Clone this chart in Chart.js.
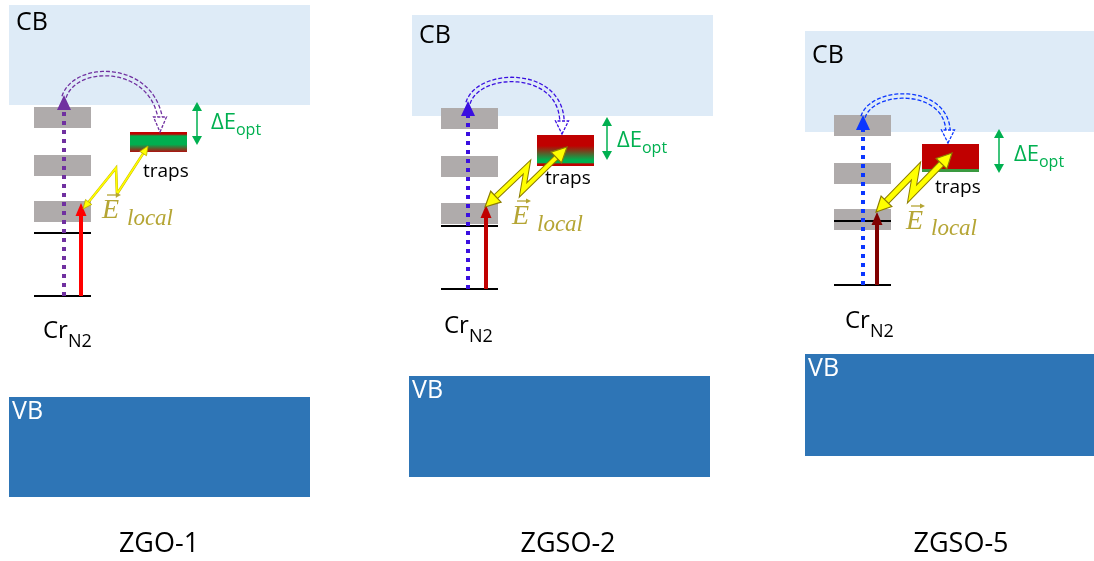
<!DOCTYPE html>
<html>
<head>
<meta charset="utf-8">
<script src="https://cdn.jsdelivr.net/npm/chart.js@4.4.1/dist/chart.umd.min.js"></script>
<style>
  body { margin: 0; background: #fff; }
  canvas { display: block; }
</style>
</head>
<body>
<canvas id="diagrama" width="1094" height="561"></canvas>
<script>
// muestras
const samples = ['ZGO-1', 'ZGSO-2', 'ZGSO-5'];

// niveles de energia (eje vertical, 0 arriba)
const cbTop = [5, 15, 31];
const cbBottom = [105, 116, 132];
const vbTop = [397, 376, 354];
const vbBottom = [497, 477, 456];
const crExcited = [[107, 155, 201], [108, 156, 203], [115, 163, 209]];
const crLevel2 = [233, 226, 221];
const crGround = [296, 289, 285];
const trapTop = [132, 135, 144];
const trapBottom = [152, 166, 172];
const deltaTop = [102, 117, 129];
const deltaBottom = [145, 160, 173];
const uvTip = [95, 101, 115];
const redTip = [203, 205, 212];

// posicion horizontal de cada panel
const cbLeft = [9, 412, 805], cbRight = [310, 713, 1094];
const vbLeft = [9, 409, 805], vbRight = [310, 710, 1094];
const levelLeft = [34, 441, 834];
const uvX = [64, 468, 863];
const redX = [81, 486, 877];
const trapLeft = [130, 537, 922];
const deltaX = [197, 607, 999];
const sampleX = [159, 568, 961];

const uvColor = ['#7030a0', '#3a0fe0', '#0a36ff'];
const redColor = ['#ff0000', '#c00000', '#800000'];
const olive = '#b5a534';

const LEVEL_W = 57, GRAY_H = 21, TRAP_W = 57;

// flecha en zigzag entre trampas y Cr
const zigzag = [
    [[83, 209], [116, 168], [117, 194], [148, 146]],
    [[485, 207], [527, 167], [523, 190], [567, 147]],
    [[876, 212], [916, 171], [912, 194], [952, 153]]
];
const zigWidth = [1.6, 4, 5];

// arco doble discontinuo (bezier)
const arcs = [
    [[64, 97], [75, 63], [150, 63], [160, 117]],
    [[468, 103], [478, 70], [560, 68], [562, 121]],
    [[863, 117], [872, 88], [945, 86], [948, 130]]
];
const arcEnd = [132, 134, 143];

const trapStops = [
    [[0, '#c00000'], [0.1, '#c00000'], [0.2, '#00b050'], [0.62, '#00b050'], [1, '#b01010']],
    [[0, '#c00000'], [0.35, '#c00000'], [0.8, '#00b050'], [0.9, '#00b050'], [0.93, '#c00000'], [1, '#c00000']],
    [[0, '#c00000'], [0.88, '#c00000'], [0.9, '#3a9a40'], [1, '#3a9a40']]
];

// textos
const cbLabelY = [30, 43, 63];
const crLabel = [[43, 338], [444, 333], [845, 328]];
const trapsLabel = [[143, 177], [545, 184], [935, 193]];
const eLabel = [[102, 218, 127, 225], [512, 224, 537, 231], [906, 229, 931, 235]];
const deltaLabel = [[211, 129], [617, 147], [1014, 161]];

const datasets = [];
for (let i = 0; i < samples.length; i++) {
    [crLevel2[i], crGround[i]].forEach(e => {
        datasets.push({
            data: [{x: levelLeft[i], y: e}, {x: levelLeft[i] + LEVEL_W, y: e}],
            showLine: true, borderColor: '#000', borderWidth: 2, pointRadius: 0, order: 3
        });
    });
    datasets.push({
        data: [{x: uvX[i], y: crGround[i]}, {x: uvX[i], y: uvTip[i] + 13}],
        showLine: true, borderColor: uvColor[i], borderWidth: 4, borderDash: [4, 5],
        borderCapStyle: 'butt', pointRadius: 0, order: 1
    });
    datasets.push({
        data: [{x: redX[i], y: crGround[i]}, {x: redX[i], y: redTip[i] + 12}],
        showLine: true, borderColor: redColor[i], borderWidth: 4, pointRadius: 0, order: 2
    });
}

function head(ctx, tx, ty, ang, len, w, fill, stroke, lw) {
    ctx.beginPath();
    ctx.moveTo(tx, ty);
    ctx.lineTo(tx - len * Math.cos(ang) + w / 2 * Math.sin(ang), ty - len * Math.sin(ang) - w / 2 * Math.cos(ang));
    ctx.lineTo(tx - len * Math.cos(ang) - w / 2 * Math.sin(ang), ty - len * Math.sin(ang) + w / 2 * Math.cos(ang));
    ctx.closePath();
    if (fill) { ctx.fillStyle = fill; ctx.fill(); }
    if (stroke) { ctx.strokeStyle = stroke; ctx.lineWidth = lw || 1; ctx.stroke(); }
}

function bez(p, t) {
    const u = 1 - t;
    return [
        u*u*u*p[0][0] + 3*u*u*t*p[1][0] + 3*u*t*t*p[2][0] + t*t*t*p[3][0],
        u*u*u*p[0][1] + 3*u*u*t*p[1][1] + 3*u*t*t*p[2][1] + t*t*t*p[3][1]
    ];
}

const fondo = {
    id: 'fondo',
    beforeDatasetsDraw(chart) {
        const ctx = chart.ctx;
        const X = v => chart.scales.x.getPixelForValue(v);
        const Y = v => chart.scales.y.getPixelForValue(v);
        ctx.save();
        for (let i = 0; i < samples.length; i++) {
            ctx.fillStyle = '#deebf7';
            ctx.fillRect(X(cbLeft[i]), Y(cbTop[i]), X(cbRight[i]) - X(cbLeft[i]), Y(cbBottom[i]) - Y(cbTop[i]));
            ctx.fillStyle = '#2e75b6';
            ctx.fillRect(X(vbLeft[i]), Y(vbTop[i]), X(vbRight[i]) - X(vbLeft[i]), Y(vbBottom[i]) - Y(vbTop[i]));
            ctx.fillStyle = '#afabab';
            crExcited[i].forEach(e => {
                ctx.fillRect(X(levelLeft[i]), Y(e), X(levelLeft[i] + LEVEL_W) - X(levelLeft[i]), Y(e + GRAY_H) - Y(e));
            });
            // trampas
            const y0 = Y(trapTop[i]), y1 = Y(trapBottom[i]);
            const g = ctx.createLinearGradient(0, y0, 0, y1);
            trapStops[i].forEach(s => g.addColorStop(s[0], s[1]));
            ctx.fillStyle = g;
            ctx.fillRect(X(trapLeft[i]), y0, X(trapLeft[i] + TRAP_W) - X(trapLeft[i]), y1 - y0);
        }
        ctx.restore();
    },
    afterDatasetsDraw(chart) {
        const ctx = chart.ctx;
        const X = v => chart.scales.x.getPixelForValue(v);
        const Y = v => chart.scales.y.getPixelForValue(v);
        ctx.save();
        for (let i = 0; i < samples.length; i++) {
            // puntas de flecha
            head(ctx, X(uvX[i]), Y(uvTip[i]), -Math.PI / 2, 15, 14, uvColor[i]);
            head(ctx, X(redX[i]), Y(redTip[i]), -Math.PI / 2, 13, 11, redColor[i]);

            // delta E
            ctx.strokeStyle = '#00b050';
            ctx.lineWidth = 1.5;
            ctx.beginPath();
            ctx.moveTo(X(deltaX[i]), Y(deltaTop[i]) + 8);
            ctx.lineTo(X(deltaX[i]), Y(deltaBottom[i]) - 8);
            ctx.stroke();
            head(ctx, X(deltaX[i]), Y(deltaTop[i]), -Math.PI / 2, 9, 10, '#00b050');
            head(ctx, X(deltaX[i]), Y(deltaBottom[i]), Math.PI / 2, 9, 10, '#00b050');

            // arco doble discontinuo
            const pts = [];
            for (let k = 0; k <= 40; k++) {
                const p = bez(arcs[i], k / 40);
                pts.push([X(p[0]), Y(p[1])]);
            }
            ctx.strokeStyle = uvColor[i];
            ctx.lineWidth = 1.3;
            ctx.setLineDash([4, 2]);
            [-2.2, 2.2].forEach(off => {
                ctx.beginPath();
                pts.forEach((p, k) => {
                    const a = pts[Math.max(k - 1, 0)], b = pts[Math.min(k + 1, pts.length - 1)];
                    const dx = b[0] - a[0], dy = b[1] - a[1], L = Math.hypot(dx, dy);
                    const px = p[0] - dy / L * off, py = p[1] + dx / L * off;
                    if (k === 0) ctx.moveTo(px, py); else ctx.lineTo(px, py);
                });
                ctx.stroke();
            });
            const e = pts[pts.length - 1];
            ctx.setLineDash([3, 1.5]);
            head(ctx, e[0], Y(arcEnd[i]), Math.PI / 2, Y(arcEnd[i]) - e[1], 13, '#fff', uvColor[i], 1.3);
            ctx.setLineDash([]);

            // zigzag campo local
            const z = zigzag[i].map(p => [X(p[0]), Y(p[1])]);
            const w = zigWidth[i];
            const hl = w < 2 ? 9 : 15, hw = w < 2 ? 8 : 15;
            const a0 = Math.atan2(z[0][1] - z[1][1], z[0][0] - z[1][0]);
            const a1 = Math.atan2(z[3][1] - z[2][1], z[3][0] - z[2][0]);
            const s0 = [z[0][0] - (hl - 2) * Math.cos(a0), z[0][1] - (hl - 2) * Math.sin(a0)];
            const s1 = [z[3][0] - (hl - 2) * Math.cos(a1), z[3][1] - (hl - 2) * Math.sin(a1)];
            const line = [s0, z[1], z[2], s1];
            ctx.lineJoin = 'miter';
            const drawLine = (col, lw) => {
                ctx.strokeStyle = col; ctx.lineWidth = lw;
                ctx.beginPath();
                line.forEach((p, k) => k ? ctx.lineTo(p[0], p[1]) : ctx.moveTo(p[0], p[1]));
                ctx.stroke();
            };
            if (w < 2) {
                drawLine('#c9b800', w + 1);
                drawLine('#ffff00', w);
                head(ctx, z[0][0], z[0][1], a0, hl, hw, '#ffff00', '#b8a800', 0.8);
                head(ctx, z[3][0], z[3][1], a1, hl, hw, '#ffff00', '#b8a800', 0.8);
            } else {
                drawLine('#8c7d00', w + 2);
                drawLine('#ffff00', w);
                head(ctx, z[0][0], z[0][1], a0, hl, hw, '#ffff00', '#8c7d00', 1.2);
                head(ctx, z[3][0], z[3][1], a1, hl, hw, '#ffff00', '#8c7d00', 1.2);
            }

            // textos
            ctx.textBaseline = 'alphabetic';
            ctx.textAlign = 'left';
            ctx.fillStyle = '#000';
            ctx.font = "25px 'Open Sans'";
            ctx.fillText('CB', X(cbLeft[i]) + 7, Y(cbLabelY[i]));
            ctx.fillStyle = '#fff';
            ctx.fillText('VB', X(vbLeft[i]) + 3, Y(vbTop[i] + 22));

            ctx.fillStyle = '#000';
            ctx.font = "24px 'Open Sans'";
            ctx.fillText('Cr', X(crLabel[i][0]), Y(crLabel[i][1]));
            const cw = ctx.measureText('Cr').width;
            ctx.font = "18px 'Open Sans'";
            ctx.fillText('N2', X(crLabel[i][0]) + cw, Y(crLabel[i][1] + 9));

            ctx.font = "19px 'Open Sans'";
            ctx.fillText('traps', X(trapsLabel[i][0]), Y(trapsLabel[i][1]));

            ctx.fillStyle = '#00b050';
            ctx.font = "22px 'Open Sans'";
            ctx.fillText('\u0394E', X(deltaLabel[i][0]), Y(deltaLabel[i][1]));
            const dw = ctx.measureText('\u0394E').width;
            ctx.font = "16px 'Open Sans'";
            ctx.fillText('opt', X(deltaLabel[i][0]) + dw, Y(deltaLabel[i][1] + 6));

            // E vector local
            const el = eLabel[i];
            ctx.fillStyle = olive;
            ctx.strokeStyle = olive;
            ctx.font = "italic 28px 'Liberation Serif'";
            ctx.fillText('E', X(el[0]), Y(el[1]));
            ctx.lineWidth = 1.3;
            ctx.beginPath();
            ctx.moveTo(X(el[0]) + 5, Y(el[1] - 23));
            ctx.lineTo(X(el[0]) + 17, Y(el[1] - 23));
            ctx.stroke();
            head(ctx, X(el[0]) + 19, Y(el[1] - 23), 0, 5, 5, olive);
            ctx.font = "italic 23px 'Liberation Serif'";
            ctx.fillText('local', X(el[2]), Y(el[3]));

            // nombre de muestra
            ctx.fillStyle = '#000';
            ctx.textAlign = 'center';
            ctx.font = "27px 'Open Sans'";
            ctx.fillText(samples[i], X(sampleX[i]), Y(552));
        }
        ctx.restore();
    }
};

const diagrama = new Chart(
    document.getElementById('diagrama').getContext('2d'), {
    type: 'scatter',
    data: { datasets: datasets },
    options: {
        responsive: false,
        animation: false,
        layout: { padding: 0 },
        plugins: { legend: { display: false }, tooltip: { enabled: false } },
        scales: {
            x: { type: 'linear', min: 0, max: 1094, display: false },
            y: { type: 'linear', min: 0, max: 561, reverse: true, display: false }
        }
    },
    plugins: [fondo]
});
</script>
</body>
</html>
